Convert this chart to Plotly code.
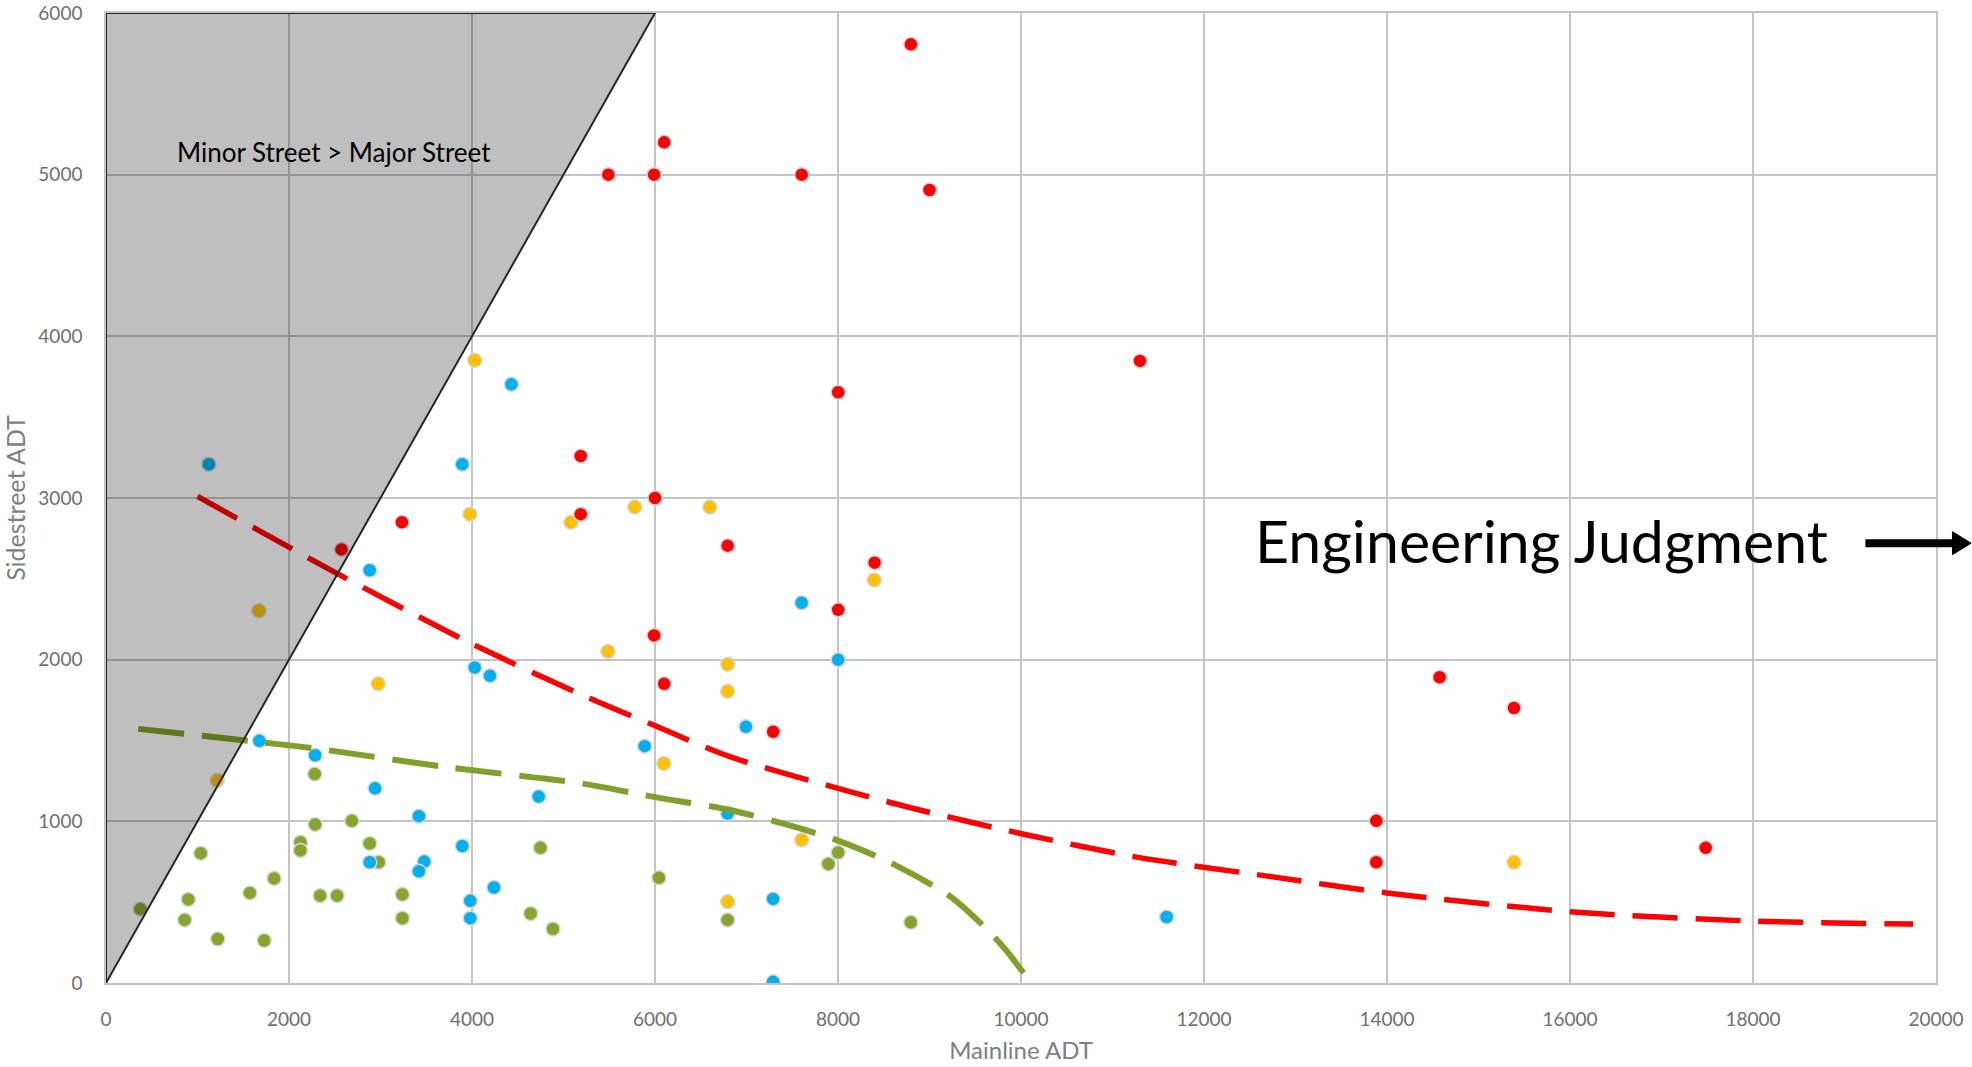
import plotly.graph_objects as go

# ---------------- data ----------------
red_x = [2574, 3234, 5188, 5188, 5490, 5990, 6100, 6000, 5990, 6100, 6794, 7603,
         8796, 9000, 8002, 8400, 8002, 7291, 11300, 13883, 13883, 14575, 15388, 17483]
red_y = [2682, 2850, 2900, 3260, 5000, 5000, 5200, 3000, 2150, 1851, 2705, 5000,
         5806, 4905, 3654, 2600, 2308, 1554, 3848, 1003, 747, 1891, 1701, 836]

yellow_x = [1671, 1216, 2975, 3977, 4030, 5081, 5486, 5779, 6599, 6097, 6794, 6794,
            7603, 6794, 8396, 15388]
yellow_y = [2303, 1253, 1851, 2900, 3852, 2850, 2051, 2944, 2944, 1358, 1971, 1804,
            885, 502, 2493, 747]

blue_x = [1124, 3894, 4431, 1676, 2286, 2882, 2941, 3420, 2882, 3478, 3420, 3894, 4030,
          4196, 3981, 3981, 4240, 4729, 5887, 7603, 8002, 6994, 6794, 7291, 7291, 11592]
blue_y = [3209, 3209, 3703, 1498, 1409, 2553, 1204, 1032, 747, 751, 691, 847, 1951,
          1900, 508, 401, 591, 1153, 1465, 2352, 2000, 1585, 1048, 520, 7, 408]

green_x = [376, 1036, 899, 860, 1221, 1573, 1837, 1729, 2281, 2286, 2125, 2125, 2340,
           2526, 2687, 2882, 2980, 3239, 3239, 4641, 4748, 4885, 6043, 8002, 7895, 6794, 8796]
green_y = [457, 803, 517, 390, 272, 557, 647, 263, 1293, 981, 870, 820, 540,
           540, 1003, 863, 747, 548, 401, 430, 836, 334, 651, 807, 736, 390, 375]

# threshold curves
red_curve_x = [1000, 2535, 3967, 5286, 5990, 6818, 8002, 8815, 9994, 11251, 12734,
               14000, 16000, 18000, 19750]
red_curve_y = [3010, 2530, 2107, 1761, 1594, 1400, 1204, 1081, 925, 780, 658,
               557, 441, 383, 365]

green_curve_x = [352, 1676, 2306, 3722, 5164, 6000, 6818, 7500, 8002, 8621, 9254, 9790, 10107]
green_curve_y = [1572, 1490, 1449, 1335, 1237, 1150, 1070, 970, 881, 731, 524, 234, 0]

# region where minor street volume exceeds major street volume (y > x)
region_x = [0, 0, 6000]
region_y = [0, 6000, 6000]

x_ticks = [0, 2000, 4000, 6000, 8000, 10000, 12000, 14000, 16000, 18000, 20000]
y_ticks = [0, 1000, 2000, 3000, 4000, 5000, 6000]

# ---------------- styles ----------------
RED = "#FF0000"
YELLOW = "#FFC000"
BLUE = "#00B0F0"
GREEN = "#86A52B"
GREEN_LINE = "#7FA02A"
GRID = "#C4C4C4"
FONT = "Lato, 'Open Sans', sans-serif"
TICK_FONT = dict(family=FONT, size=19, color="#6F6F6F")

fig = go.Figure()

marker_line = dict(color="rgba(215,215,215,1)", width=1.5)
for xs, ys, col, name in [(green_x, green_y, GREEN, "green"),
                          (blue_x, blue_y, BLUE, "blue"),
                          (yellow_x, yellow_y, YELLOW, "yellow"),
                          (red_x, red_y, RED, "red")]:
    fig.add_trace(go.Scatter(x=xs, y=ys, mode="markers", name=name,
                             marker=dict(color=col, size=14, line=marker_line),
                             showlegend=False))

fig.add_trace(go.Scatter(x=red_curve_x, y=red_curve_y, mode="lines",
                         line=dict(color=RED, width=5.5, dash="45px,18px",
                                   shape="spline", smoothing=0.8),
                         showlegend=False))
fig.add_trace(go.Scatter(x=green_curve_x, y=green_curve_y, mode="lines",
                         line=dict(color=GREEN_LINE, width=6, dash="46px,18px",
                                   shape="spline", smoothing=0.8),
                         showlegend=False))

# shaded region drawn above the marks (darkens what lies beneath, as in the reference)
path = "M " + " L ".join(f"{a},{b}" for a, b in zip(region_x, region_y)) + " Z"
fig.add_shape(type="path", path=path, xref="x", yref="y", layer="above",
              fillcolor="rgba(0,0,0,0.25)", line=dict(color="#262626", width=2))

# arrow next to "Engineering Judgment"
fig.add_shape(type="line", xref="paper", yref="paper",
              x0=0.9614, x1=1.0110, y0=0.4534, y1=0.4534,
              line=dict(color="black", width=8))
fig.add_shape(type="path", xref="paper", yref="paper",
              path="M 1.0090,0.4652 L 1.0192,0.4534 L 1.0090,0.4416 Z",
              fillcolor="black", line=dict(color="black", width=1))

fig.add_annotation(x=2496, y=5140, xref="x", yref="y", text="Minor Street > Major Street",
                   showarrow=False, xanchor="center", yanchor="middle",
                   font=dict(family=FONT, size=26, color="black"))
fig.add_annotation(x=15687, y=2735, xref="x", yref="y", text="Engineering Judgment",
                   showarrow=False, xanchor="center", yanchor="middle",
                   font=dict(family=FONT, size=59, color="black"))

fig.update_xaxes(range=[0, 20000], tickvals=x_ticks, ticktext=[str(v) for v in x_ticks],
                 showgrid=True, gridcolor=GRID, gridwidth=1.5, zeroline=False,
                 showline=True, linecolor=GRID, linewidth=1.5, mirror=True,
                 ticks="outside", ticklen=18, tickcolor="rgba(0,0,0,0)",
                 tickfont=TICK_FONT,
                 title=dict(text="Mainline ADT", font=dict(family=FONT, size=24, color="#7F7F7F"),
                            standoff=14))
fig.update_yaxes(range=[0, 6000], tickvals=y_ticks, ticktext=[str(v) for v in y_ticks],
                 showgrid=True, gridcolor=GRID, gridwidth=1.5, zeroline=False,
                 showline=True, linecolor=GRID, linewidth=1.5, mirror=True,
                 ticks="outside", ticklen=18, tickcolor="rgba(0,0,0,0)",
                 tickfont=TICK_FONT,
                 title=dict(text="Sidestreet ADT", font=dict(family=FONT, size=25, color="#7F7F7F"),
                            standoff=21))

fig.update_layout(width=1972, height=1067,
                  margin=dict(l=106, r=36, t=13, b=84, autoexpand=False),
                  plot_bgcolor="white", paper_bgcolor="white")

# remove the browser's default 8px page margin so the figure fills the window exactly
fig.write_html("out.html", config={"displayModeBar": False},
               post_script="document.body.style.margin='0';document.body.style.overflow='hidden';")
